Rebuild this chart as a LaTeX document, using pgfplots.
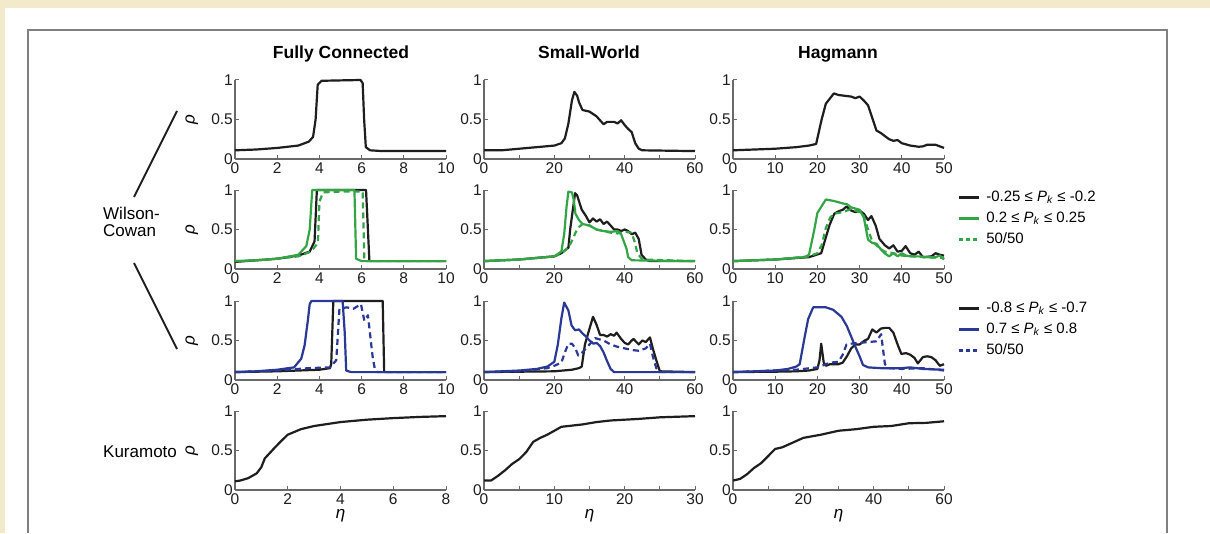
\documentclass[border=0pt]{standalone}
\usepackage{fontspec}
\setmainfont{Liberation Sans}
\usepackage{pgfplots}
\pgfplotsset{compat=1.18}

\definecolor{bgcream}{RGB}{243,234,203}
\definecolor{framegray}{RGB}{128,128,128}
\definecolor{axgray}{RGB}{105,105,105}
\definecolor{cblack}{RGB}{30,30,30}
\definecolor{cgreen}{RGB}{52,165,68}
\definecolor{cblue}{RGB}{42,56,150}

\pgfplotsset{
  panel/.style={
    scale only axis, width=211pt, height=79pt, anchor=south west,
    axis x line*=bottom, axis y line*=left,
    axis line style={axgray, line width=1.2pt},
    every tick/.style={axgray, line width=1pt},
    tick align=inside, major tick length=4pt,
    ymin=0, ymax=1, ytick={0,0.5,1},
    tick label style={font=\fontsize{15.5}{15.5}\selectfont, text=cblack},
    /pgf/number format/assume math mode=true,
    yticklabel style={inner xsep=2pt},
    clip=false,
    every axis plot/.append style={line width=2.2pt, no markers, line join=round},
    label style={font=\fontsize{17}{17}\selectfont},
  },
  rholab/.style={ylabel={\textit{ρ}},
    ylabel style={at={(axis description cs:-0.205,0.5)}, anchor=center}},
  etalab/.style={xlabel={\textit{η}},
    xlabel style={at={(axis description cs:0.5,-0.33)}, anchor=center}},
  colA/.style={xmin=0, xmax=10, xtick={0,2,...,10}},
  colB/.style={xmin=0, xmax=60, xtick={0,10,...,60}, xticklabels={0,,20,,40,,60}},
  colC/.style={xmin=0, xmax=50, xtick={0,10,...,50}},
  leg/.style={
    legend style={at={(1.062,1.0)}, anchor=north west, draw=none, fill=none,
      inner sep=0pt, font=\fontsize{15}{15}\selectfont,
      nodes={inner sep=0pt, text height=11pt, text depth=4pt},
      row sep=6pt, /tikz/every odd column/.append style={column sep=6pt}},
    legend cell align=left,
    legend image code/.code={\draw[##1, line width=3pt] (0pt,0pt) -- (20pt,0pt);},
  },
  dsh/.style={dash pattern=on 6pt off 4pt,
    legend image post style={dash pattern=on 4pt off 3pt}},
}

\begin{document}
\begin{tikzpicture}[x=1pt,y=1pt]
\fill[bgcream] (0,0) rectangle (1210,533);
\fill[white] (5,0) rectangle (1210,525);
\draw[framegray, line width=1.5pt] (28,0) -- (28,503) -- (1167,503) -- (1167,0);

% left labels
\draw[cblack, line width=2pt] (177,422) -- (134,336);
\draw[cblack, line width=2pt] (134,270) -- (177,184);
\node[anchor=base west, inner sep=0pt, font=\fontsize{17}{17}\selectfont] at (103,314) {Wilson-};
\node[anchor=base west, inner sep=0pt, font=\fontsize{17}{17}\selectfont] at (103,297) {Cowan};
\node[anchor=base west, inner sep=0pt, font=\fontsize{17}{17}\selectfont] at (103,76) {Kuramoto};

% column titles
\node[anchor=base, font=\bfseries\fontsize{17.5}{17.5}\selectfont] at (341,474) {Fully Connected};
\node[anchor=base, font=\bfseries\fontsize{17.5}{17.5}\selectfont] at (589,474) {Small-World};
\node[anchor=base, font=\bfseries\fontsize{17.5}{17.5}\selectfont] at (838,474) {Hagmann};

% ---------- row 1: Wilson-Cowan ----------
\begin{axis}[panel, colA, rholab, at={(235pt,374pt)}]
\addplot[cblack] coordinates {(0,0.11) (1,0.12) (2,0.14) (3,0.17) (3.5,0.22) (3.7,0.28) (3.82,0.5) (3.92,0.94) (4.1,0.99) (5,0.995) (5.95,1.0) (6.05,0.96) (6.12,0.5) (6.2,0.15) (6.4,0.11) (7,0.1) (10,0.1)};
\end{axis}

\begin{axis}[panel, colB, at={(484pt,374pt)}]
\addplot[cblack] coordinates {(0,0.11) (5,0.11) (10,0.13) (15,0.15) (20,0.17) (22,0.2) (23,0.26) (24,0.45) (25,0.74) (25.7,0.85) (26.5,0.8) (27,0.72) (28,0.62) (29,0.61) (30,0.6) (31,0.57) (32,0.54) (33,0.49) (34,0.44) (35,0.47) (37,0.47) (38,0.45) (39,0.49) (40,0.43) (41,0.38) (42,0.34) (43,0.2) (44,0.13) (45,0.11) (60,0.1)};
\end{axis}

\begin{axis}[panel, colC, at={(733pt,374pt)}]
\addplot[cblack] coordinates {(0,0.11) (5,0.12) (10,0.13) (15,0.15) (18,0.17) (19.7,0.19) (21,0.5) (22,0.7) (23.9,0.83) (25,0.81) (28,0.79) (29,0.77) (30,0.79) (31,0.74) (32,0.68) (33,0.52) (34,0.36) (35,0.33) (36,0.29) (37,0.25) (38,0.23) (39,0.24) (40,0.2) (42,0.17) (44,0.155) (45,0.16) (46,0.18) (48,0.18) (50,0.14)};
\end{axis}

% ---------- row 2: assortativity +-0.2 ----------
\begin{axis}[panel, colA, rholab, at={(235pt,264pt)}]
\addplot[cblack] coordinates {(0,0.09) (1,0.11) (2,0.13) (3,0.17) (3.54,0.22) (3.77,0.35) (3.88,1.0) (5,1.0) (6.21,1.0) (6.37,0.1) (7,0.1) (10,0.1)};
\addplot[cgreen] coordinates {(0,0.1) (1,0.11) (2,0.13) (3,0.18) (3.38,0.29) (3.54,0.5) (3.66,1.0) (5,1.0) (5.66,1.0) (5.74,0.13) (6,0.1) (10,0.1)};
\addplot[cgreen, dsh] coordinates {(0,0.1) (1,0.11) (2,0.13) (3,0.16) (3.6,0.22) (3.93,0.33) (4.0,0.85) (4.17,0.97) (5,0.98) (6.05,0.98) (6.13,0.1) (10,0.1)};
\end{axis}

\begin{axis}[panel, colB, at={(484pt,264pt)}]
\addplot[cblack] coordinates {(0,0.1) (10,0.12) (20,0.16) (22,0.2) (24,0.27) (24.5,0.5) (25.9,0.96) (26.5,0.93) (27,0.86) (27.8,0.75) (29,0.67) (30,0.59) (31,0.64) (32,0.6) (33,0.63) (34,0.57) (35,0.6) (36,0.55) (37,0.5) (38,0.5) (39,0.48) (40,0.5) (41,0.48) (42,0.44) (43,0.46) (44,0.38) (44.8,0.18) (46,0.12) (47,0.1) (60,0.1)};
\addplot[cgreen] coordinates {(0,0.1) (10,0.12) (20,0.16) (22,0.22) (22.8,0.44) (23.5,0.8) (24,0.98) (25,0.97) (25.5,0.88) (26,0.7) (27,0.62) (28,0.57) (30,0.55) (32,0.5) (34,0.48) (36,0.47) (38,0.48) (39,0.44) (40.5,0.26) (41,0.15) (42,0.11) (60,0.1)};
\addplot[cgreen, dsh] coordinates {(0,0.1) (10,0.12) (20,0.16) (22,0.2) (24,0.27) (25.4,0.39) (26,0.46) (27,0.53) (28,0.57) (30,0.55) (32,0.5) (34,0.48) (36,0.46) (38,0.45) (40,0.47) (42,0.46) (43,0.32) (43.6,0.2) (45,0.12) (60,0.1)};
\end{axis}

\begin{axis}[panel, colC, leg, at={(733pt,264pt)}]
\addplot[cblack] coordinates {(0,0.1) (10,0.12) (18,0.15) (20.9,0.2) (22,0.4) (22.9,0.56) (24,0.7) (25,0.73) (26,0.75) (26.9,0.79) (28,0.74) (29,0.72) (30,0.74) (31,0.7) (32,0.62) (32.8,0.67) (33.8,0.55) (34.7,0.38) (36,0.3) (37,0.26) (38,0.3) (39,0.22) (40,0.23) (40.9,0.29) (42,0.2) (43,0.18) (44,0.22) (45,0.15) (47,0.16) (48,0.2) (49,0.18) (50,0.17)};
\addlegendentry{-0.25 ≤ \textit{P}\textsubscript{\textit{k}} ≤ -0.2}
\addplot[cgreen] coordinates {(0,0.1) (10,0.12) (17,0.15) (18,0.18) (19.2,0.48) (20,0.71) (22,0.88) (24,0.86) (26,0.83) (27,0.82) (28,0.78) (30,0.75) (31,0.65) (32,0.37) (33,0.33) (34,0.32) (35,0.25) (35.9,0.2) (37,0.16) (38,0.2) (39,0.16) (40,0.2) (41,0.17) (42,0.16) (44,0.16) (46,0.15) (48,0.15) (49,0.17) (50,0.12)};
\addlegendentry{0.2 ≤ \textit{P}\textsubscript{\textit{k}} ≤ 0.25}
\addplot[cgreen, dsh] coordinates {(0,0.1) (10,0.12) (18,0.16) (20,0.2) (21,0.3) (22,0.52) (23,0.65) (24,0.7) (26,0.72) (28,0.76) (30,0.72) (31,0.67) (32,0.5) (33,0.35) (34,0.3) (35,0.25) (36,0.22) (38,0.2) (40,0.17) (45,0.15) (50,0.14)};
\addlegendentry{50/50}
\end{axis}

% ---------- row 3: assortativity +-0.75 ----------
\begin{axis}[panel, colA, rholab, at={(235pt,153pt)}]
\addplot[cblack] coordinates {(0,0.1) (1,0.105) (2,0.11) (3,0.12) (4,0.13) (4.5,0.15) (4.56,0.2) (4.66,1.0) (6,1.0) (7.0,1.0) (7.07,0.1) (10,0.1)};
\addplot[cblue] coordinates {(0,0.1) (1,0.11) (2,0.13) (2.8,0.16) (3.14,0.27) (3.3,0.44) (3.46,0.77) (3.54,0.96) (3.62,1.0) (5.1,1.0) (5.2,0.6) (5.27,0.12) (5.5,0.1) (10,0.1)};
\addplot[cblue, dsh] coordinates {(0,0.1) (1,0.11) (2,0.12) (3,0.14) (3.5,0.15) (4.5,0.16) (4.8,0.25) (4.95,0.9) (5.3,0.92) (5.6,0.9) (5.97,0.96) (6.13,0.75) (6.3,0.82) (6.52,0.3) (6.62,0.15) (6.76,0.1) (10,0.1)};
\end{axis}

\begin{axis}[panel, colB, at={(484pt,153pt)}]
\addplot[cblack] coordinates {(0,0.1) (10,0.105) (20,0.11) (25,0.13) (27,0.15) (27.8,0.17) (28.7,0.45) (30,0.65) (31,0.8) (32,0.7) (33,0.57) (34,0.57) (35,0.55) (36,0.58) (37,0.56) (37.7,0.6) (39,0.52) (40,0.47) (41,0.45) (42,0.5) (42.5,0.52) (44,0.45) (45,0.5) (46,0.48) (47.2,0.54) (48,0.4) (49,0.25) (50,0.11) (60,0.1)};
\addplot[cblue] coordinates {(0,0.1) (10,0.12) (15,0.14) (18,0.17) (20,0.23) (21,0.45) (22,0.78) (22.8,0.98) (24,0.88) (24.9,0.69) (25.9,0.63) (27,0.64) (28,0.59) (29,0.55) (30,0.5) (31.1,0.46) (32,0.47) (33,0.43) (34,0.35) (34.9,0.25) (36,0.14) (37,0.1) (60,0.1)};
\addplot[cblue, dsh] coordinates {(0,0.1) (10,0.11) (18,0.15) (20,0.18) (22,0.22) (23,0.35) (24,0.46) (25,0.46) (26,0.4) (26.8,0.31) (28,0.35) (29,0.4) (30,0.45) (31,0.5) (31.6,0.53) (34,0.5) (36,0.45) (38,0.42) (40,0.4) (42,0.38) (44,0.37) (46,0.4) (47.2,0.46) (48,0.3) (49,0.15) (50,0.1) (60,0.1)};
\end{axis}

\begin{axis}[panel, colC, leg, at={(733pt,153pt)}]
\addplot[cblack] coordinates {(0,0.1) (10,0.105) (15,0.11) (18,0.12) (20,0.14) (20.5,0.25) (20.9,0.46) (21.5,0.22) (22,0.18) (23,0.2) (25,0.2) (26,0.22) (27,0.3) (28,0.4) (29,0.45) (30,0.45) (31.2,0.5) (32,0.52) (33,0.64) (34,0.6) (35,0.65) (36,0.66) (37,0.66) (38,0.6) (39,0.45) (39.9,0.33) (41,0.34) (42,0.32) (43,0.28) (43.8,0.21) (45,0.29) (46,0.3) (47,0.29) (48,0.25) (49,0.18) (50,0.2)};
\addlegendentry{-0.8 ≤ \textit{P}\textsubscript{\textit{k}} ≤ -0.7}
\addplot[cblue] coordinates {(0,0.1) (10,0.12) (13,0.14) (15,0.17) (15.8,0.2) (17,0.55) (17.8,0.77) (19,0.92) (20,0.92) (22,0.92) (23.7,0.89) (25.7,0.8) (27,0.68) (28,0.55) (29,0.42) (30,0.3) (30.8,0.19) (32,0.16) (35,0.15) (40,0.15) (42,0.16) (45,0.14) (50,0.13)};
\addlegendentry{0.7 ≤ \textit{P}\textsubscript{\textit{k}} ≤ 0.8}
\addplot[cblue, dsh] coordinates {(0,0.1) (15,0.13) (20,0.16) (23.1,0.22) (25,0.23) (26,0.32) (26.9,0.45) (28,0.46) (30,0.47) (32,0.48) (34,0.49) (35.1,0.58) (36,0.2) (37,0.15) (40,0.14) (45,0.15) (50,0.12)};
\addlegendentry{50/50}
\end{axis}

% ---------- row 4: Kuramoto ----------
\begin{axis}[panel, rholab, etalab, xmin=0, xmax=8, xtick={0,2,...,8}, at={(235pt,43pt)}]
\addplot[cblack] coordinates {(0,0.11) (0.2,0.12) (0.5,0.15) (0.82,0.21) (1.0,0.29) (1.13,0.4) (1.49,0.53) (1.75,0.62) (2.0,0.7) (2.5,0.77) (3.0,0.81) (4,0.86) (5,0.89) (6,0.91) (7,0.925) (8,0.935)};
\end{axis}

\begin{axis}[panel, etalab, xmin=0, xmax=30, xtick={0,5,...,30}, xticklabels={0,,10,,20,,30}, at={(484pt,43pt)}]
\addplot[cblack] coordinates {(0,0.12) (1,0.12) (2,0.18) (3,0.25) (4,0.33) (5,0.39) (6,0.48) (7,0.61) (8,0.66) (9,0.7) (10,0.75) (11,0.8) (12,0.81) (14,0.83) (16,0.86) (18,0.88) (20,0.89) (22,0.9) (25,0.92) (30,0.935)};
\end{axis}

\begin{axis}[panel, etalab, xmin=0, xmax=60, xtick={0,10,...,60}, xticklabels={0,,20,,40,,60}, at={(733pt,43pt)}]
\addplot[cblack] coordinates {(0,0.12) (2,0.14) (4,0.2) (6,0.28) (8,0.34) (10,0.43) (12,0.52) (14,0.54) (16,0.58) (18,0.62) (20,0.66) (25,0.7) (30,0.75) (35,0.77) (40,0.8) (45,0.81) (50,0.845) (55,0.85) (60,0.87)};
\end{axis}
\end{tikzpicture}
\end{document}
